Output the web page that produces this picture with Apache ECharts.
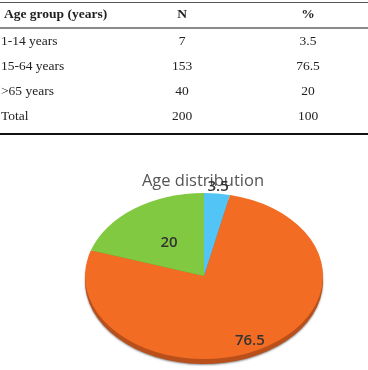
<!DOCTYPE html>
<html>
<head>
<meta charset="utf-8">
<script src="https://cdn.jsdelivr.net/npm/echarts@6/dist/echarts.min.js"></script>
<style>
  html, body { margin: 0; padding: 0; background: #fff; }
  #wrap { position: relative; width: 368px; height: 370px; overflow: hidden; }
  #chart { position: absolute; left: 0; top: 0; width: 368px; height: 370px; }
  #table { position: absolute; left: 0; top: 0; width: 368px; height: 140px; font-family: "Liberation Serif", serif; font-size: 13.5px; color: #222; }
  .cell { position: absolute; height: 20px; line-height: 20px; white-space: nowrap; }
  .hr { position: absolute; left: 0; width: 368px; }
</style>
</head>
<body>
<div id="wrap">
  <div id="chart"></div>
  <div id="table"></div>
</div>
<script>
// table + pie data
const headers = ['Age group (years)', 'N', '%']
const groups = ['1-14 years', '15-64 years', '>65 years']
const counts = [7, 153, 40]
const percents = [3.5, 76.5, 20]
const totalRow = ['Total', 200, 100]

const sliceColors = ['#52c4f6', '#f26c23', '#82c942']
const sideColors = ['#3b97c0', '#b9501b', '#5e9a2e']
const labelRadius = [1.08, 0.87, 0.5]  // Excel "best fit" label spots, fraction of radius

// ---- table (html) ----
function buildTable() {
  const el = document.getElementById('table')
  const rowY = [14, 41, 65.5, 90.5, 116]
  const rows = [headers]
  groups.forEach((g, i) => rows.push([g, counts[i], percents[i]]))
  rows.push(totalRow)
  let html = ''
  rows.forEach((r, i) => {
    const top = rowY[i] - 10
    const bold = i === 0 ? 'font-weight:bold;' : ''
    const lx = i === 0 ? 4 : 1
    html += `<div class="cell" style="left:${lx}px;top:${top}px;${bold}">${String(r[0]).replace('>', '&gt;')}</div>`
    html += `<div class="cell" style="left:132px;width:100px;text-align:center;top:${top}px;${bold}">${r[1]}</div>`
    html += `<div class="cell" style="left:258px;width:100px;text-align:center;top:${top}px;${bold}">${r[2]}</div>`
  })
  html += '<div class="hr" style="top:2px;height:1px;background:#555"></div>'
  html += '<div class="hr" style="top:27px;height:2px;background:#8a8a8a"></div>'
  html += '<div class="hr" style="top:133px;height:1.5px;background:#111"></div>'
  el.innerHTML = html
}
buildTable()

// ---- tilted pie (custom series) ----
const CX = 204, CY = 276, R = 119, TILT = 83 / 119, DEPTH = 5
const total = percents.reduce((a, b) => a + b, 0)

function sliceAngles(idx) {
  let before = 0
  for (let i = 0; i < idx; i++) before += percents[i]
  const start = -Math.PI / 2 + 2 * Math.PI * before / total
  const end = start + 2 * Math.PI * percents[idx] / total
  return [start, end]
}

function renderSide(params, api) {
  const [start, end] = sliceAngles(params.dataIndex)
  return {
    type: 'sector',
    shape: { cx: CX, cy: CY + DEPTH, r: R, startAngle: start, endAngle: end, clockwise: true },
    originX: CX, originY: CY + DEPTH, scaleY: TILT,
    style: { fill: sideColors[params.dataIndex], shadowBlur: 2, shadowColor: 'rgba(0,0,0,0.45)', shadowOffsetY: 1 },
  }
}

function renderTop(params, api) {
  const i = params.dataIndex
  const [start, end] = sliceAngles(i)
  const mid = (start + end) / 2 + (i === 1 ? 0.06 : 0)
  const lr = R * labelRadius[i]
  return {
    type: 'group',
    children: [
      {
        type: 'sector',
        shape: { cx: CX, cy: CY, r: R, startAngle: start, endAngle: end, clockwise: true },
        originX: CX, originY: CY, scaleY: TILT,
        style: { fill: sliceColors[i] },
      },
      {
        type: 'text',
        x: CX + lr * Math.cos(mid),
        y: CY + lr * Math.sin(mid) * TILT,
        z2: 10,
        style: {
          text: String(api.value(0)),
          align: 'center', verticalAlign: 'middle',
          fill: '#333', font: '600 15px "Open Sans", sans-serif',
        },
      },
    ],
  }
}

const chart = echarts.init(document.getElementById('chart'), null, { renderer: 'canvas' })
chart.setOption({
  animation: false,
  title: {
    text: 'Age distribution',
    left: 198, top: 168, textAlign: 'center',
    textStyle: { color: '#555', fontSize: 16.5, fontWeight: 'normal', fontFamily: '"Open Sans", sans-serif' },
    z: 1,
  },
  series: [
    { type: 'custom', coordinateSystem: 'none', renderItem: renderSide, data: percents, z: 1, silent: true },
    { type: 'custom', coordinateSystem: 'none', renderItem: renderTop, data: percents, z: 2, silent: true },
  ],
})
</script>
</body>
</html>
